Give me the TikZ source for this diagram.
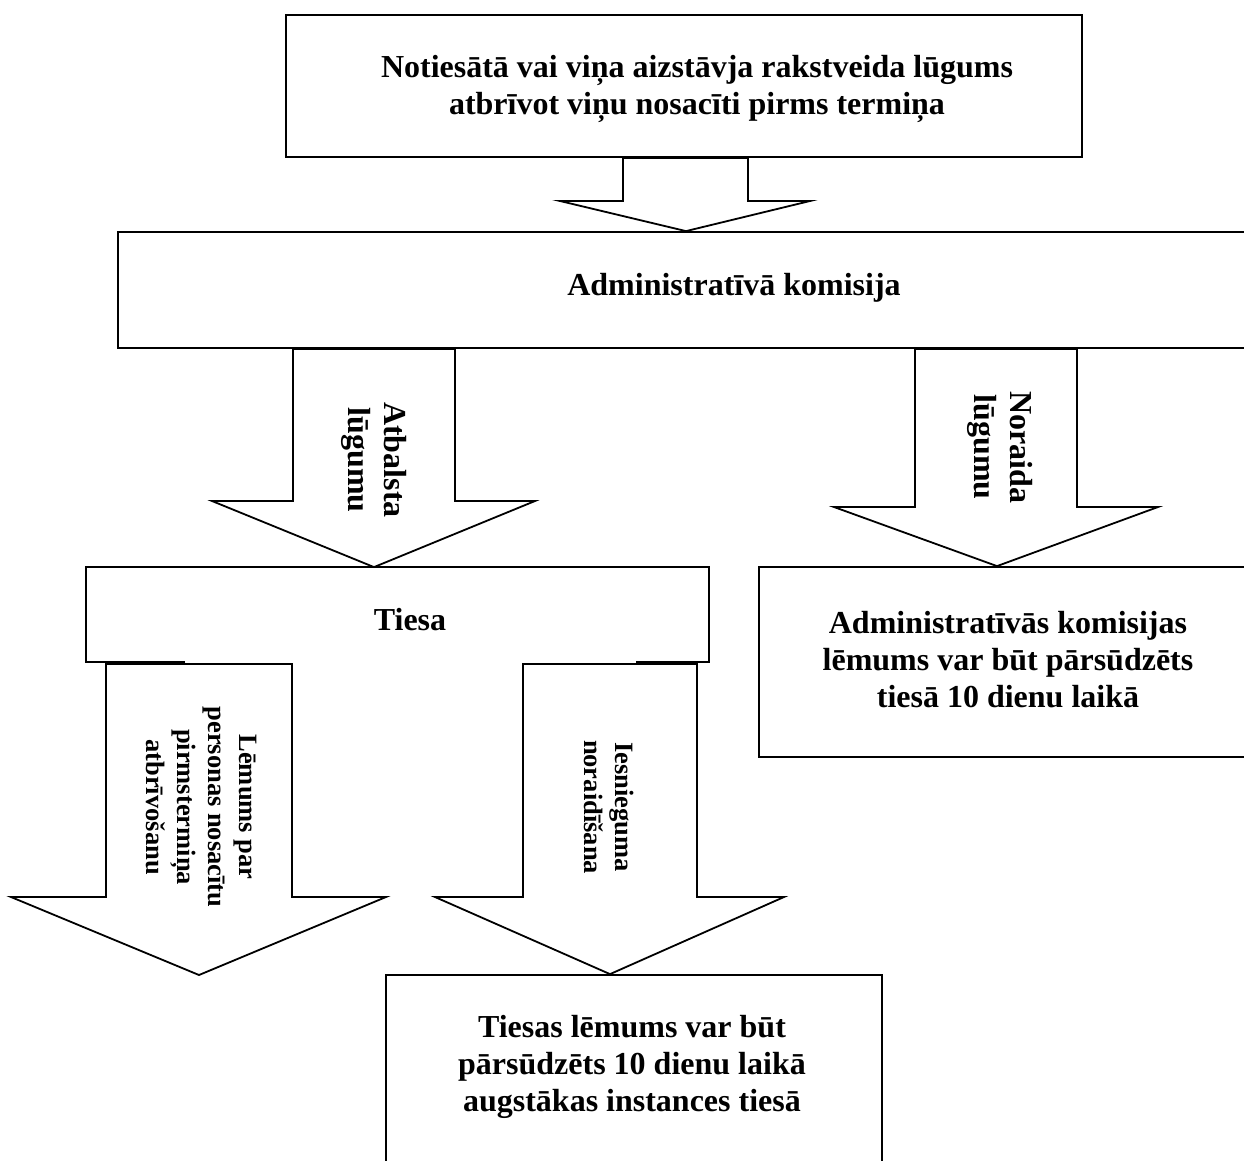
\documentclass[tikz,border=0pt]{standalone}
\usepackage{fontspec}
\setmainfont{Liberation Serif}
\usetikzlibrary{calc}
\tikzset{
  ln/.style={line width=1.8pt, line join=miter},
  boxnode/.style={rectangle, inner sep=0pt, ln},
  arrowshape/.style={ln, draw=black, fill=white},
  bigtxt/.style={font=\bfseries\fontsize{32}{37}\selectfont, align=center, inner sep=0pt},
  rottxt/.style={bigtxt, rotate=-90, font=\bfseries\fontsize{32}{36}\selectfont},
  smalltxt/.style={font=\bfseries\fontsize{26.5}{31}\selectfont, align=center, inner sep=0pt, rotate=-90},
}
\begin{document}
\begin{tikzpicture}[x=1pt, y=-1pt]
\useasboundingbox (0,0) rectangle (1244,1160);
\fill[white] (0,0) rectangle (1244,1160);
\clip (0,0) rectangle (1244,1160);

% boxes
\node[boxnode, draw, minimum width=796pt, minimum height=142pt] (top) at (684,86) {};
\node[boxnode, draw, minimum width=1232pt, minimum height=116pt] (admin) at (734,290) {};
\node[boxnode, minimum width=621pt, minimum height=93pt] (tiesa) at (397.5,614.5) {};
\draw[ln] ([xshift=99pt]tiesa.south west) -- (tiesa.south west) -- (tiesa.north west)
  -- (tiesa.north east) -- (tiesa.south east) -- ([xshift=-73pt]tiesa.south east);
\node[boxnode, draw, minimum width=503pt, minimum height=190pt] (rbox) at (1010.5,662) {};
\node[boxnode, draw, minimum width=496pt, minimum height=225pt] (appeal) at (634,1087.5) {};
\coordinate (lemend) at (199,975);

% block arrows
\draw[arrowshape] let \p1=(top.south), \p2=(admin.north) in
  (623pt,\y1) -- (623pt,-201pt) -- (560pt,-201pt) -- (686pt,\y2) -- (810pt,-201pt)
  -- (748pt,-201pt) -- (748pt,\y1) -- cycle;
\draw[arrowshape] let \p1=(admin.south), \p2=(tiesa.north) in
  (293pt,\y1) -- (293pt,-501pt) -- (212pt,-501pt) -- (374pt,\y2) -- (535pt,-501pt)
  -- (455pt,-501pt) -- (455pt,\y1) -- cycle;
\draw[arrowshape] let \p1=(admin.south), \p2=(rbox.north) in
  (915pt,\y1) -- (915pt,-507pt) -- (834pt,-507pt) -- (997pt,\y2) -- (1158pt,-507pt)
  -- (1077pt,-507pt) -- (1077pt,\y1) -- cycle;
\draw[arrowshape] let \p1=(tiesa.south), \p2=(lemend) in
  (106pt,\y1-2pt) -- (106pt,-897pt) -- (11pt,-897pt) -- (199pt,\y2) -- (386pt,-897pt)
  -- (292pt,-897pt) -- (292pt,\y1-2pt) -- cycle;
\draw[arrowshape] let \p1=(tiesa.south), \p2=(appeal.north) in
  (523pt,\y1-2pt) -- (523pt,-897pt) -- (435pt,-897pt) -- (610pt,\y2) -- (784pt,-897pt)
  -- (697pt,-897pt) -- (697pt,\y1-2pt) -- cycle;

% texts
\node[bigtxt] (toptxt) at (697,89) {Notiesātā vai viņa aizstāvja rakstveida lūgums\\atbrīvot viņu nosacīti pirms termiņa};
\node[bigtxt] (admintxt) at (734,288) {Administratīvā komisija};
\node[bigtxt] (tiesatxt) at (410,620) {Tiesa};
\node[bigtxt] (rboxtxt) at (1008,660) {Administratīvās komisijas\\lēmums var būt pārsūdzēts\\tiesā 10 dienu laikā};
\node[bigtxt] (appealtxt) at (632,1067) {Tiesas lēmums var būt\\pārsūdzēts 10 dienu laikā\\augstākas instances tiesā};
\node[rottxt] (atbtxt) at (374,460) {Atbalsta\\lūgumu};
\node[rottxt] (nortxt) at (1000,447) {Noraida\\lūgumu};
\node[smalltxt] (lemtxt) at (202,807) {Lēmums par\\personas nosacītu\\pirmstermiņa\\atbrīvošanu};
\node[smalltxt] (iestxt) at (609,807) {Iesnieguma\\noraidīšana};
\end{tikzpicture}
\end{document}
